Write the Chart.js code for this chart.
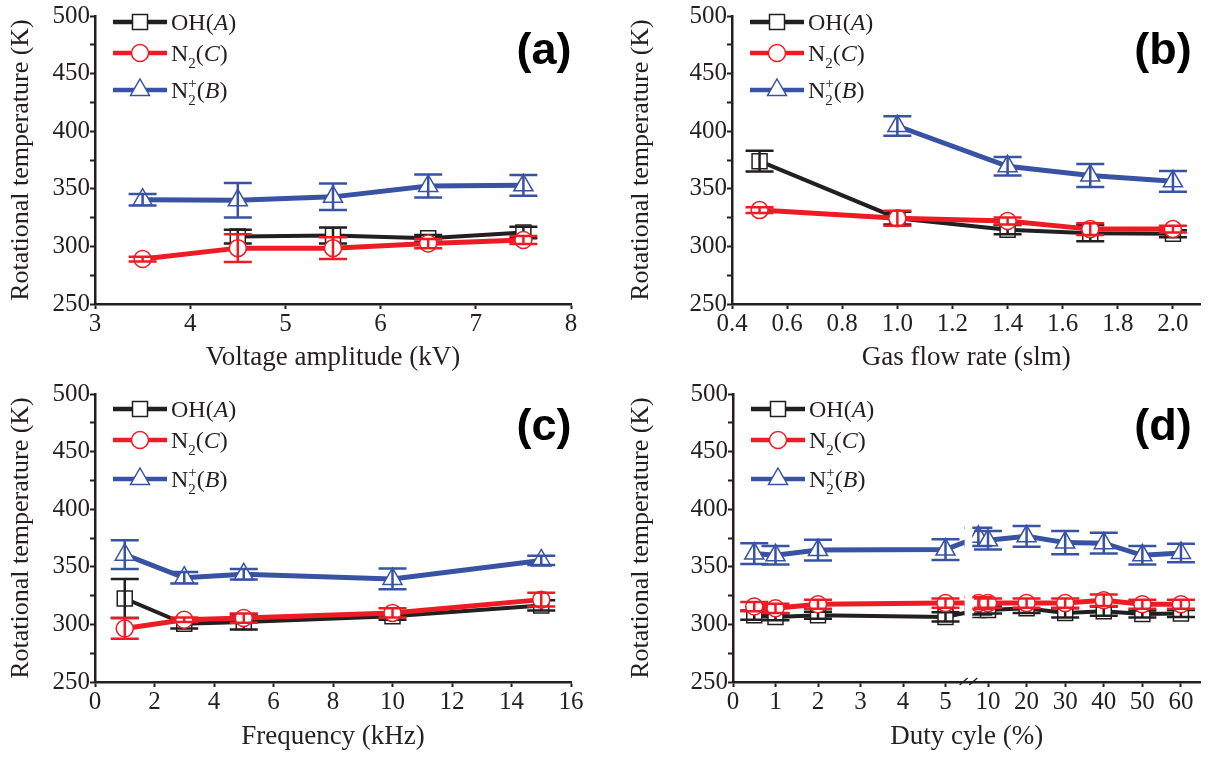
<!DOCTYPE html>
<html>
<head>
<meta charset="utf-8">
<script src="https://cdn.jsdelivr.net/npm/chart.js@4.4.1/dist/chart.umd.min.js"></script>
<style>
html, body { margin: 0; padding: 0; background: #fff; }
#wrap { position: relative; width: 1213px; height: 757px; overflow: hidden; }
.panel { position: absolute; }
</style>
</head>
<body>
<div id="wrap">
  <div class="panel" style="left:0;top:0"><canvas id="ca" width="600" height="378"></canvas></div>
  <div class="panel" style="left:620px;top:0"><canvas id="cb" width="593" height="378"></canvas></div>
  <div class="panel" style="left:0;top:378px"><canvas id="cc" width="600" height="379"></canvas></div>
  <div class="panel" style="left:620px;top:378px"><canvas id="cd" width="593" height="379"></canvas></div>
</div>
<script>
// series
var seriesNames = ['OH(A)', 'N2(C)', 'N2+(B)'];
var seriesColors = ['#231f20', '#ed1c24', '#3953a4'];
var pointStyles = ['rect', 'circle', 'triangle'];

// (a) voltage amplitude, kV
var voltage = [3.5, 4.5, 5.5, 6.5, 7.5];
var voltOH = [null, 308.5, 309.5, 307, 312];
var voltOHErr = [0, 6, 7, 3, 5];
var voltN2 = [289, 298.5, 298.5, 302.5, 305.5];
var voltN2Err = [2, 12, 9.5, 4, 3.5];
var voltN2p = [340.5, 340, 343, 352.5, 353];
var voltN2pErr = [5, 15, 11.5, 10, 9];

// (b) gas flow rate, slm
var flow = [0.5, 1.0, 1.4, 1.7, 2.0];
var flowOH = [374, 324.5, 314.5, 311.5, 311];
var flowOHErr = [9, 5.5, 4, 7, 3];
var flowN2 = [331.5, 324.5, 322, 315, 315];
var flowN2Err = [2.5, 6.5, 3, 5, 3];
var flowN2p = [null, 404.5, 369.5, 361.5, 356.5];
var flowN2pErr = [0, 8.5, 8, 10, 9];

// (c) frequency, kHz
var freq = [1, 3, 5, 10, 15];
var freqOH = [322.5, 300.5, 302, 307, 316.5];
var freqOHErr = [17, 4, 6.5, 3, 4.5];
var freqN2 = [296.5, 304, 305.5, 310, 321.5];
var freqN2Err = [9, 2, 4, 4, 6];
var freqN2p = [360.5, 340.5, 343.5, 339.5, 355.5];
var freqN2pErr = [12.5, 5, 4.5, 9, 4];

// (d) duty cycle, %
var duty = [0.5, 1, 2, 5, 7.5, 10, 20, 30, 40, 50, 60];
var dutyOH = [308, 306.5, 308, 306.5, 312.5, 312.5, 314, 310, 311.5, 309, 309.5];
var dutyOHErr = [4, 3, 3, 4, 4, 3, 4, 4, 4, 3, 3];
var dutyN2 = [315.5, 314, 317.5, 318.5, 318.5, 318.5, 318.5, 318.5, 321, 317.5, 317.5];
var dutyN2Err = [4, 4, 4, 4, 5, 4, 4, 4, 5, 4, 4];
var dutyN2p = [361.5, 360, 364.5, 365, 376, 373, 376.5, 371, 370.5, 360, 362];
var dutyN2pErr = [9, 8, 9, 9, 8, 8, 9, 10, 9, 8, 8];

// ticks
var tempTicks = [250, 275, 300, 325, 350, 375, 400, 425, 450, 475, 500];
var voltTicks = [3, 4, 5, 6, 7, 8];
var flowTicks = [0.4, 0.6, 0.8, 1.0, 1.2, 1.4, 1.6, 1.8, 2.0];
var freqTicks = [0, 2, 4, 6, 8, 10, 12, 14, 16];
var dutyTicks = [0, 1, 2, 3, 4, 5, 10, 20, 30, 40, 50, 60];

var ink = '#231f20';
var serif = "'Liberation Serif', 'Times New Roman', serif";

// broken duty-cycle axis: 0-5 linear, then 10-60 compressed
function dutyToAxis(v) {
  return v <= 5 ? v : 6 + (v - 10) * 0.0908;
}

// legend text pieces (subscripts, italics)
var legendParts = [
  [{t: 'OH('}, {t: 'A', it: true}, {t: ')'}],
  [{t: 'N'}, {sub: '2'}, {t: '('}, {t: 'C', it: true}, {t: ')'}],
  [{t: 'N'}, {sub: '2', sup: '+'}, {t: '('}, {t: 'B', it: true}, {t: ')'}]
];

function drawMarker(ctx, style, x, y, color) {
  ctx.save();
  ctx.fillStyle = '#fff';
  ctx.strokeStyle = color;
  ctx.lineWidth = 1.5;
  ctx.beginPath();
  if (style == 'rect') {
    ctx.rect(x - 7.5, y - 7.5, 15, 15);
  } else if (style == 'circle') {
    ctx.arc(x, y, 8.5, 0, Math.PI * 2);
  } else {
    ctx.moveTo(x, y - 11);
    ctx.lineTo(x + 9.5, y + 5.5);
    ctx.lineTo(x - 9.5, y + 5.5);
    ctx.closePath();
  }
  ctx.fill();
  ctx.stroke();
  ctx.restore();
}

function drawRich(ctx, parts, x, y) {
  var size = 24, small = 15;
  var base = y + 8;
  ctx.fillStyle = ink;
  ctx.textBaseline = 'alphabetic';
  ctx.textAlign = 'left';
  parts.forEach(function(p) {
    if (p.t) {
      ctx.font = (p.it ? 'italic ' : '') + size + 'px ' + serif;
      ctx.fillText(p.t, x, base);
      x += ctx.measureText(p.t).width;
    } else {
      ctx.font = small + 'px ' + serif;
      var w = ctx.measureText(p.sub).width;
      ctx.fillText(p.sub, x, base + 7);
      if (p.sup) {
        ctx.fillText(p.sup, x, base - 10);
        w = Math.max(w, ctx.measureText(p.sup).width);
      }
      x += w;
    }
  });
}

var figurePlugin = {
  id: 'figureExtras',
  afterDatasetDraw: function(chart, args) {
    var ds = chart.data.datasets[args.index];
    var ys = chart.scales.y;
    var ctx = chart.ctx;
    ctx.save();
    ctx.strokeStyle = ds.borderColor;
    ctx.lineWidth = 2.5;
    args.meta.data.forEach(function(pt, i) {
      var v = ds.data[i].y, e = ds.errors[i];
      if (!e) return;
      var y1 = ys.getPixelForValue(v + e), y2 = ys.getPixelForValue(v - e);
      ctx.beginPath();
      ctx.moveTo(pt.x, y1); ctx.lineTo(pt.x, y2);
      ctx.moveTo(pt.x - 14, y1); ctx.lineTo(pt.x + 14, y1);
      ctx.moveTo(pt.x - 14, y2); ctx.lineTo(pt.x + 14, y2);
      ctx.stroke();
    });
    ctx.restore();
  },
  afterDatasetsDraw: function(chart) {
    var o = chart.options.plugins.figureExtras;
    var ctx = chart.ctx;
    var area = chart.chartArea;
    if (o.breakAt) {
      var xs = chart.scales.x;
      var b0 = xs.getPixelForValue(o.breakAt[0]), b1 = xs.getPixelForValue(o.breakAt[1]);
      ctx.save();
      ctx.fillStyle = '#fff';
      ctx.fillRect(b0, area.top, b1 - b0, area.bottom - area.top - 3);
      ctx.strokeStyle = ink;
      ctx.lineWidth = 1.3;
      ctx.beginPath();
      ctx.moveTo(b0 - 5, area.bottom + 3); ctx.lineTo(b0 + 3, area.bottom - 4);
      ctx.moveTo(b1 - 3, area.bottom + 3); ctx.lineTo(b1 + 5, area.bottom - 4);
      ctx.stroke();
      ctx.restore();
    }
    // legend
    for (var s = 0; s < 3; s++) {
      var ly = area.top + o.legendRows[s];
      var lx = area.left + 18;
      ctx.save();
      ctx.strokeStyle = seriesColors[s];
      ctx.lineWidth = 4.5;
      ctx.beginPath();
      ctx.moveTo(lx, ly); ctx.lineTo(lx + 54, ly);
      ctx.stroke();
      ctx.restore();
      drawMarker(ctx, pointStyles[s], lx + 27, ly, seriesColors[s]);
      drawRich(ctx, legendParts[s], lx + 58, ly);
    }
    // panel letter
    ctx.save();
    ctx.font = 'bold 45px "Liberation Sans", Arial, sans-serif';
    ctx.fillStyle = '#000';
    ctx.textAlign = 'center';
    ctx.textBaseline = 'middle';
    ctx.fillText(o.letter, o.letterX, o.letterY);
    ctx.restore();
  }
};

function makePanel(id, o) {
  var mapX = o.mapX || function(v) { return v; };
  var values = o.values, errors = o.errors;
  var datasets = [0, 1, 2].map(function(s) {
    var pts = [], e = [];
    for (var i = 0; i < o.x.length; i++) {
      if (values[s][i] === null) continue;
      pts.push({x: mapX(o.x[i]), y: values[s][i]});
      e.push(errors[s][i]);
    }
    return {
      label: seriesNames[s],
      data: pts,
      errors: e,
      borderColor: seriesColors[s],
      backgroundColor: '#fff',
      borderWidth: [4, 5, 5][s],
      pointStyle: pointStyles[s],
      pointRadius: [10.6, 8.5, 11][s],
      pointBackgroundColor: '#fff',
      pointBorderColor: seriesColors[s],
      pointBorderWidth: 1.5,
      tension: 0,
      order: [2, 1, 0][s]
    };
  });

  new Chart(document.getElementById(id), {
    type: 'line',
    data: {datasets: datasets},
    plugins: [figurePlugin],
    options: {
      responsive: false,
      animation: false,
      layout: {padding: {top: 16, right: o.padRight, left: 0, bottom: 0}},
      plugins: {
        legend: {display: false},
        tooltip: {enabled: false},
        figureExtras: {
          legendRows: o.legendRows,
          letter: o.letter, letterX: o.letterX, letterY: o.letterY,
          breakAt: o.breakAt
        }
      },
      scales: {
        x: {
          type: 'linear',
          min: o.xMin, max: o.xMax,
          afterBuildTicks: function(sc) {
            sc.ticks = o.xTicks.map(function(v) { return {value: mapX(v)}; });
          },
          afterFit: function(sc) { sc.height = o.xHeight; },
          ticks: {
            autoSkip: false, maxRotation: 0, padding: 0,
            color: ink, font: {family: serif, size: 25},
            callback: function(v, i) { return o.xLabel(i); }
          },
          grid: {drawOnChartArea: false, drawTicks: true, tickLength: 5, color: ink, tickWidth: 2},
          border: {display: true, color: ink, width: 2.5},
          title: {display: true, text: o.xTitle, color: ink,
                  font: {family: serif, size: 27}, padding: {top: 0, bottom: 4}}
        },
        y: {
          type: 'linear',
          min: 250, max: 500,
          afterBuildTicks: function(sc) {
            sc.ticks = tempTicks.map(function(v) { return {value: v}; });
          },
          afterFit: function(sc) { sc.width = o.yWidth; },
          ticks: {
            autoSkip: false, padding: 0,
            color: ink, font: {family: serif, size: 25},
            callback: function(v) { return v % 50 === 0 ? String(v) : ''; }
          },
          grid: {drawOnChartArea: false, drawTicks: true, tickLength: 5, color: ink, tickWidth: 2},
          border: {display: true, color: ink, width: 2.5},
          title: {display: true, text: 'Rotational temperature (K)', color: ink,
                  font: {family: serif, size: 26}, padding: {top: 6, bottom: 0}}
        }
      }
    }
  });
}

makePanel('ca', {
  x: voltage,
  values: [voltOH, voltN2, voltN2p],
  errors: [voltOHErr, voltN2Err, voltN2pErr],
  xMin: 3, xMax: 8, xTicks: voltTicks,
  xLabel: function(i) { return String(voltTicks[i]); },
  xTitle: 'Voltage amplitude (kV)',
  yWidth: 95, xHeight: 74, padRight: 29,
  legendRows: [6, 37, 74],
  letter: '(a)', letterX: 544, letterY: 52
});

makePanel('cb', {
  x: flow,
  values: [flowOH, flowN2, flowN2p],
  errors: [flowOHErr, flowN2Err, flowN2pErr],
  xMin: 0.4, xMax: 2.1, xTicks: flowTicks,
  xLabel: function(i) { return flowTicks[i].toFixed(1); },
  xTitle: 'Gas flow rate (slm)',
  yWidth: 112, xHeight: 74, padRight: 3,
  legendRows: [6, 37, 74],
  letter: '(b)', letterX: 543, letterY: 52
});

makePanel('cc', {
  x: freq,
  values: [freqOH, freqN2, freqN2p],
  errors: [freqOHErr, freqN2Err, freqN2pErr],
  xMin: 0, xMax: 16, xTicks: freqTicks,
  xLabel: function(i) { return String(freqTicks[i]); },
  xTitle: 'Frequency (kHz)',
  yWidth: 95, xHeight: 75, padRight: 29,
  legendRows: [15, 46, 85],
  letter: '(c)', letterX: 544, letterY: 50
});

makePanel('cd', {
  x: duty,
  mapX: dutyToAxis,
  values: [dutyOH, dutyN2, dutyN2p],
  errors: [dutyOHErr, dutyN2Err, dutyN2pErr],
  xMin: 0, xMax: 11, xTicks: dutyTicks,
  xLabel: function(i) { return String(dutyTicks[i]); },
  xTitle: 'Duty cyle (%)',
  yWidth: 113, xHeight: 75, padRight: 3,
  legendRows: [15, 46, 85],
  letter: '(d)', letterX: 543, letterY: 50,
  breakAt: [5.45, 5.63]
});
</script>
</body>
</html>
